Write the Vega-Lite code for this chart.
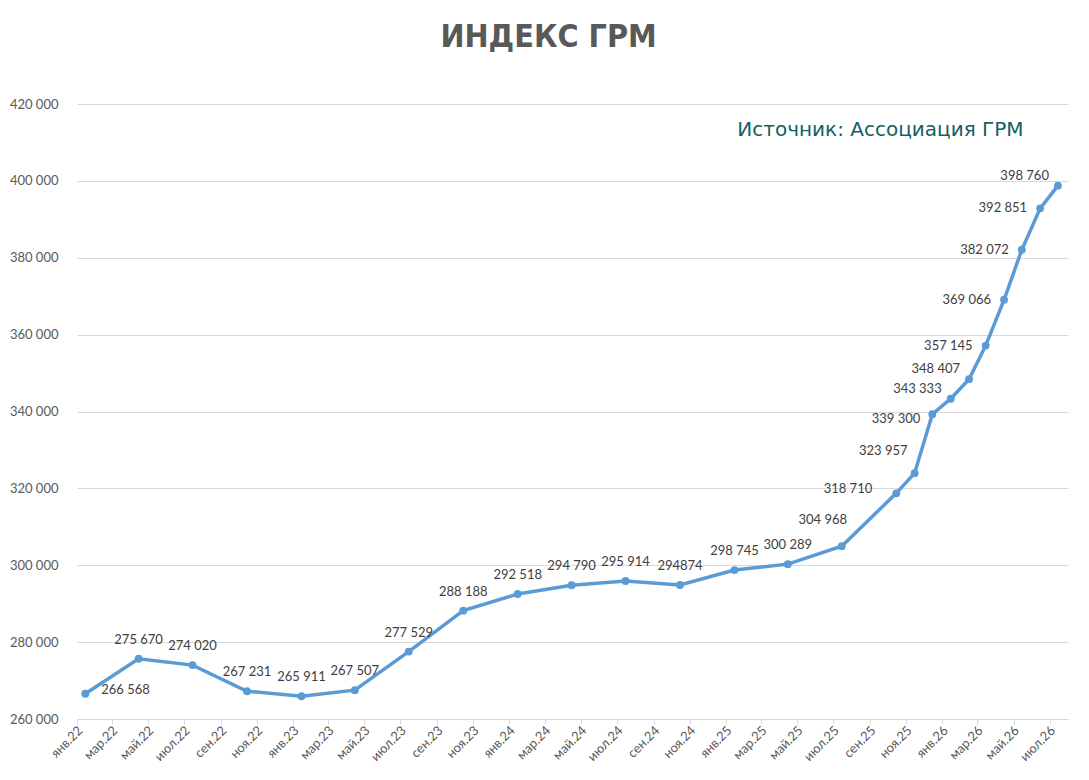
{
  "$schema": "https://vega.github.io/schema/vega-lite/v6.json",
  "autosize": {"type": "none"},
  "padding": {"left": 77, "top": 104, "right": 21, "bottom": 61},
  "width": 991,
  "height": 615,
  "background": "white",
  "title": {
    "text": "ИНДЕКС ГРМ",
    "font": "DejaVu Sans Condensed",
    "fontSize": 32,
    "fontWeight": "bold",
    "color": "#595959",
    "anchor": "middle",
    "dx": -24,
    "offset": 44
  },
  "data": {
    "values": [
      {"date": "2022-01-15", "value": 266568, "label": "266 568"},
      {"date": "2022-04-15", "value": 275670, "label": "275 670"},
      {"date": "2022-07-15", "value": 274020, "label": "274 020"},
      {"date": "2022-10-15", "value": 267231, "label": "267 231"},
      {"date": "2023-01-15", "value": 265911, "label": "265 911"},
      {"date": "2023-04-15", "value": 267507, "label": "267 507"},
      {"date": "2023-07-15", "value": 277529, "label": "277 529"},
      {"date": "2023-10-15", "value": 288188, "label": "288 188"},
      {"date": "2024-01-15", "value": 292518, "label": "292 518"},
      {"date": "2024-04-15", "value": 294790, "label": "294 790"},
      {"date": "2024-07-15", "value": 295914, "label": "295 914"},
      {"date": "2024-10-15", "value": 294874, "label": "294874"},
      {"date": "2025-01-15", "value": 298745, "label": "298 745"},
      {"date": "2025-04-15", "value": 300289, "label": "300 289"},
      {"date": "2025-07-15", "value": 304968, "label": "304 968"},
      {"date": "2025-10-15", "value": 318710, "label": "318 710"},
      {"date": "2025-11-15", "value": 323957, "label": "323 957"},
      {"date": "2025-12-15", "value": 339300, "label": "339 300"},
      {"date": "2026-01-15", "value": 343333, "label": "343 333"},
      {"date": "2026-02-15", "value": 348407, "label": "348 407"},
      {"date": "2026-03-15", "value": 357145, "label": "357 145"},
      {"date": "2026-04-15", "value": 369066, "label": "369 066"},
      {"date": "2026-05-15", "value": 382072, "label": "382 072"},
      {"date": "2026-06-15", "value": 392851, "label": "392 851"},
      {"date": "2026-07-15", "value": 398760, "label": "398 760"}
    ]
  },
  "encoding": {
    "x": {
      "field": "date",
      "type": "temporal",
      "scale": {
        "domain": [
          {"year": 2022, "month": 1, "date": 1, "utc": true},
          {"year": 2026, "month": 8, "date": 1, "utc": true}
        ],
        "nice": false
      },
      "axis": {
        "title": null,
        "grid": false,
        "domainColor": "#D9D9D9",
        "tickColor": "#D9D9D9",
        "tickSize": 5,
        "tickCount": {"interval": "month", "step": 2},
        "labelAngle": -45,
        "labelAlign": "right",
        "labelBaseline": "middle",
        "labelPadding": 4,
        "labelOffset": 3,
        "labelFont": "Lato",
        "labelFontSize": 13,
        "labelColor": "#595959",
        "labelOverlap": false,
        "labelFlush": false,
        "labelBound": false,
        "labelExpr": "['янв','фев','мар','апр','май','июн','июл','авг','сен','окт','ноя','дек'][month(datum.value)] + '.' + timeFormat(datum.value, '%y')"
      }
    },
    "y": {
      "field": "value",
      "type": "quantitative",
      "scale": {"domain": [260000, 420000], "nice": false, "zero": false},
      "axis": {
        "title": null,
        "values": [260000, 280000, 300000, 320000, 340000, 360000, 380000, 400000, 420000],
        "grid": true,
        "gridColor": "#D9D9D9",
        "domain": false,
        "ticks": false,
        "labelPadding": 19,
        "labelFont": "Lato",
        "labelFontSize": 13,
        "labelColor": "#595959",
        "labelExpr": "replace(format(datum.value, ','), ',', ' ')"
      }
    }
  },
  "layer": [
    {"mark": {"type": "line", "color": "#5B9BD5", "strokeWidth": 3.5}},
    {"mark": {"type": "point", "filled": true, "color": "#5B9BD5", "size": 62, "opacity": 1}},
    {
      "transform": [{"filter": {"field": "label", "oneOf": ["266 568"]}}],
      "mark": {"type": "text", "font": "Lato", "fontSize": 13, "color": "#404040", "align": "left", "baseline": "middle", "dx": 16, "dy": -4},
      "encoding": {"text": {"field": "label"}}
    },
    {
      "transform": [{"filter": {"field": "label", "oneOf": ["275 670", "274 020", "267 231", "265 911", "267 507", "277 529", "288 188", "292 518", "294 790", "295 914", "294874", "298 745", "300 289"]}}],
      "mark": {"type": "text", "font": "Lato", "fontSize": 13, "color": "#404040", "align": "center", "baseline": "middle", "dy": -19},
      "encoding": {"text": {"field": "label"}}
    },
    {
      "transform": [{"filter": {"field": "label", "oneOf": ["304 968"]}}],
      "mark": {"type": "text", "font": "Lato", "fontSize": 13, "color": "#404040", "align": "center", "baseline": "middle", "dx": -19, "dy": -26},
      "encoding": {"text": {"field": "label"}}
    },
    {
      "transform": [{"filter": {"field": "label", "oneOf": ["318 710"]}}],
      "mark": {"type": "text", "font": "Lato", "fontSize": 13, "color": "#404040", "align": "right", "baseline": "middle", "dx": -24, "dy": -4},
      "encoding": {"text": {"field": "label"}}
    },
    {
      "transform": [{"filter": {"field": "label", "oneOf": ["323 957"]}}],
      "mark": {"type": "text", "font": "Lato", "fontSize": 13, "color": "#404040", "align": "right", "baseline": "middle", "dx": -7, "dy": -22},
      "encoding": {"text": {"field": "label"}}
    },
    {
      "transform": [{"filter": {"field": "label", "oneOf": ["339 300"]}}],
      "mark": {"type": "text", "font": "Lato", "fontSize": 13, "color": "#404040", "align": "right", "baseline": "middle", "dx": -12, "dy": 5},
      "encoding": {"text": {"field": "label"}}
    },
    {
      "transform": [{"filter": {"field": "label", "oneOf": ["343 333", "348 407", "398 760"]}}],
      "mark": {"type": "text", "font": "Lato", "fontSize": 13, "color": "#404040", "align": "right", "baseline": "middle", "dx": -9, "dy": -10},
      "encoding": {"text": {"field": "label"}}
    },
    {
      "transform": [{"filter": {"field": "label", "oneOf": ["357 145", "369 066", "382 072", "392 851"]}}],
      "mark": {"type": "text", "font": "Lato", "fontSize": 13, "color": "#404040", "align": "right", "baseline": "middle", "dx": -13, "dy": 0},
      "encoding": {"text": {"field": "label"}}
    },
    {
      "transform": [{"filter": {"field": "label", "oneOf": ["398 760"]}}],
      "mark": {"type": "text", "font": "DejaVu Sans", "fontSize": 20, "color": "#14605F", "align": "right", "baseline": "middle", "text": "Источник: Ассоциация ГРМ"},
      "encoding": {
        "x": {"datum": {"year": 2026, "month": 5, "date": 18, "utc": true}, "type": "temporal"},
        "y": {"datum": 413200, "type": "quantitative"}
      }
    }
  ],
  "config": {"view": {"stroke": null}}
}
